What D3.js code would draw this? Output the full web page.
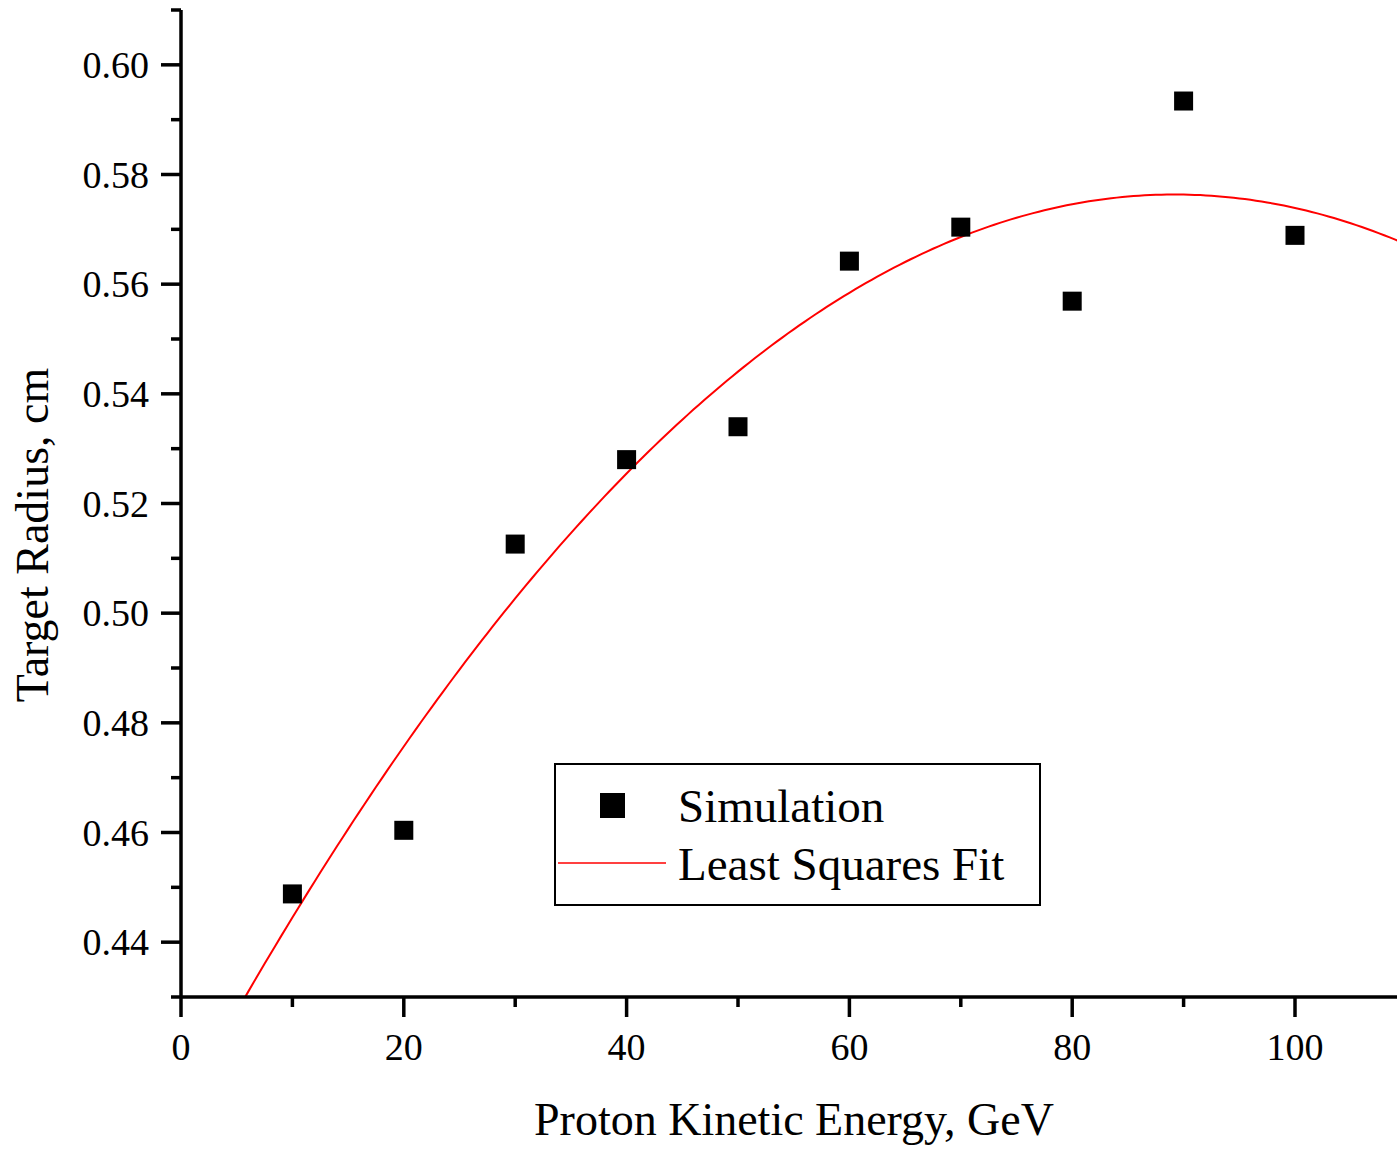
<!DOCTYPE html>
<html>
<head>
<meta charset="utf-8">
<script src="https://cdn.jsdelivr.net/npm/d3@7"></script>
<style>
  body { margin: 0; background: #fff; }
  text { font-family: "Liberation Serif", "Times New Roman", serif; fill: #000; }
</style>
</head>
<body>
<div id="chart"></div>
<script>
// data
var energy = [10, 20, 30, 40, 50, 60, 70, 80, 90, 100]
var radius = [0.4488, 0.4604, 0.5126, 0.528, 0.534, 0.5642, 0.5704, 0.5569, 0.5934, 0.5689]
// quadratic least squares fit: r = c0 + c1*E + c2*E^2
var fitCoefs = [0.4091, 0.003750, -0.00002102]
var xTicks = [0, 20, 40, 60, 80, 100]
var xMinor = [10, 30, 50, 70, 90]
var yTicks = [0.44, 0.46, 0.48, 0.50, 0.52, 0.54, 0.56, 0.58, 0.60]
var yMinor = [0.45, 0.47, 0.49, 0.51, 0.53, 0.55, 0.57, 0.59, 0.61]
var legendLabels = ["Simulation", "Least Squares Fit"]

var W = 1397, H = 1150
// plot box (don't call these top/left, window.top is taken)
var pL = 181, pR = 1397, pT = 10, pB = 997

var svg = d3.select("#chart").append("svg")
  .attr("width", W).attr("height", H)

var x = d3.scaleLinear().domain([0, 100]).range([pL, 1295])
var y = d3.scaleLinear().domain([0.43, 0.61]).range([pB, pT])

svg.append("defs").append("clipPath").attr("id", "plot")
  .append("rect").attr("x", pL).attr("y", pT)
  .attr("width", pR - pL).attr("height", pB - pT)

// fit curve
var fx = d3.range(0, 110.01, 0.5)
var line = d3.line()
  .x(function(d) { return x(d) })
  .y(function(d) { return y(fitCoefs[0] + fitCoefs[1]*d + fitCoefs[2]*d*d) })
svg.append("path").datum(fx)
  .attr("clip-path", "url(#plot)")
  .attr("d", line)
  .attr("fill", "none").attr("stroke", "#ff0000").attr("stroke-width", 2)

// points
var ms = 19
svg.selectAll("rect.pt").data(energy).enter().append("rect")
  .attr("class", "pt")
  .attr("x", function(d) { return x(d) - ms/2 })
  .attr("y", function(d, i) { return y(radius[i]) - ms/2 })
  .attr("width", ms).attr("height", ms)
  .attr("fill", "#000")

// axes
var ax = svg.append("g").attr("stroke", "#000").attr("stroke-width", 3.5)
ax.append("line").attr("x1", 171).attr("x2", pR).attr("y1", pB).attr("y2", pB)
ax.append("line").attr("x1", pL).attr("x2", pL).attr("y1", pT).attr("y2", pB)

ax.selectAll("line.xmaj").data(xTicks).enter().append("line")
  .attr("x1", function(d) { return x(d) }).attr("x2", function(d) { return x(d) })
  .attr("y1", pB).attr("y2", pB + 20)
ax.selectAll("line.xmin").data(xMinor).enter().append("line")
  .attr("x1", function(d) { return x(d) }).attr("x2", function(d) { return x(d) })
  .attr("y1", pB).attr("y2", pB + 10)
ax.selectAll("line.ymaj").data(yTicks).enter().append("line")
  .attr("x1", pL - 20).attr("x2", pL)
  .attr("y1", function(d) { return y(d) }).attr("y2", function(d) { return y(d) })
ax.selectAll("line.ymin").data(yMinor).enter().append("line")
  .attr("x1", pL - 10).attr("x2", pL)
  .attr("y1", function(d) { return y(d) }).attr("y2", function(d) { return y(d) })

svg.selectAll("text.xt").data(xTicks).enter().append("text")
  .attr("x", function(d) { return x(d) }).attr("y", 1060)
  .attr("text-anchor", "middle").attr("font-size", 38)
  .text(function(d) { return d })
svg.selectAll("text.yt").data(yTicks).enter().append("text")
  .attr("x", 149).attr("y", function(d) { return y(d) })
  .attr("dy", "0.35em")
  .attr("text-anchor", "end").attr("font-size", 38)
  .text(function(d) { return d3.format(".2f")(d) })

// titles
svg.append("text").attr("x", 794).attr("y", 1135)
  .attr("text-anchor", "middle").attr("font-size", 46)
  .text("Proton Kinetic Energy, GeV")
svg.append("text").attr("transform", "translate(48,535) rotate(-90)")
  .attr("text-anchor", "middle").attr("font-size", 46)
  .text("Target Radius, cm")

// legend
var lg = svg.append("g")
lg.append("rect").attr("x", 555).attr("y", 764).attr("width", 485).attr("height", 141)
  .attr("fill", "#fff").attr("stroke", "#000").attr("stroke-width", 2)
lg.append("rect").attr("x", 600).attr("y", 793).attr("width", 25).attr("height", 25).attr("fill", "#000")
lg.append("line").attr("x1", 558).attr("x2", 666).attr("y1", 863).attr("y2", 863)
  .attr("stroke", "#ff0000").attr("stroke-width", 1.5)
lg.selectAll("text").data(legendLabels).enter().append("text")
  .attr("x", 678).attr("y", function(d, i) { return 822 + i*58 })
  .attr("font-size", 47)
  .text(function(d) { return d })
</script>
</body>
</html>
